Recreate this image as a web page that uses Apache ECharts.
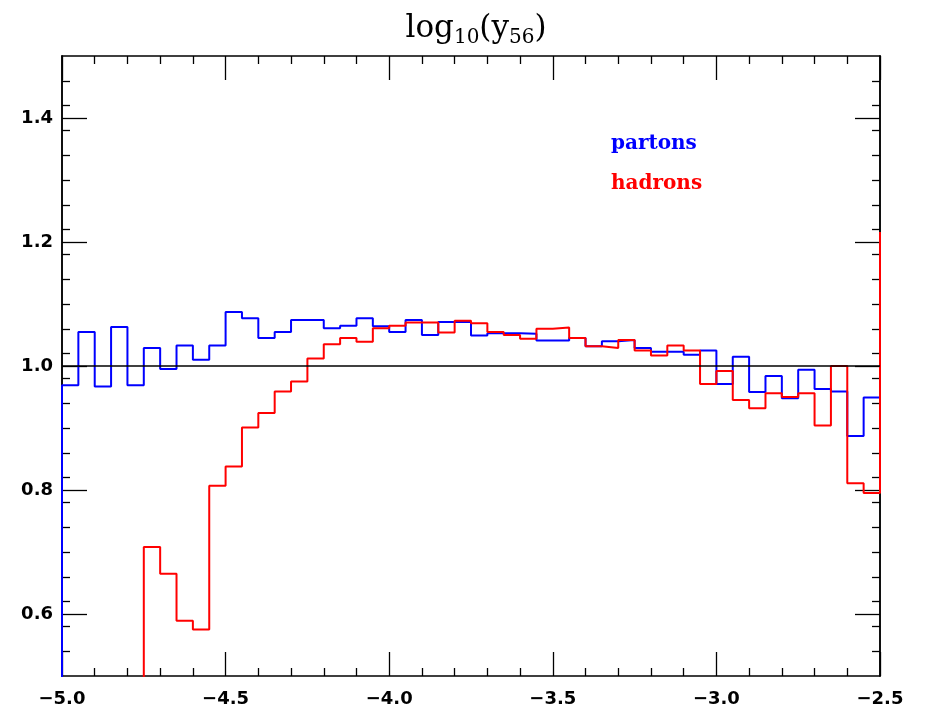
<!DOCTYPE html>
<html>
<head>
<meta charset="utf-8">
<script src="https://cdn.jsdelivr.net/npm/echarts@6/dist/echarts.min.js"></script>
<style>
html,body{margin:0;padding:0;background:#fff;}
#chart{width:926px;height:713px;}
</style>
</head>
<body>
<div id="chart"></div>
<script>
// ---- data ----
const binStart = -5.0;
const binWidth = 0.05;
const partons = [0.969,1.055,0.967,1.063,0.969,1.029,0.995,1.033,1.010,1.033,
  1.087,1.077,1.045,1.055,1.074,1.074,1.061,1.065,1.077,1.064,
  1.055,1.074,1.050,1.071,1.071,1.049,1.053,1.053,1.052,1.041,
  1.041,1.045,1.032,1.040,1.042,1.029,1.023,1.023,1.018,1.025,
  0.971,1.015,0.958,0.984,0.948,0.994,0.963,0.959,0.887,0.949];
const partonsEdge = [0, null]; // value before first bin, after last bin
const hadrons = [0,0,0,0,0,0.708,0.665,0.589,0.575,0.807,
  0.838,0.901,0.924,0.959,0.975,1.012,1.035,1.045,1.039,1.061,
  1.065,1.070,1.070,1.054,1.073,1.069,1.055,1.050,1.044,1.060,
  1.062,1.045,1.032,1.029,1.042,1.025,1.017,1.033,1.025,0.971,
  0.992,0.945,0.932,0.956,0.950,0.956,0.904,1.000,0.811,0.795];
const hadronsEdge = [null, 1.216];
const xTickLabels = [-5.0,-4.5,-4.0,-3.5,-3.0,-2.5];
const yTickLabels = [0.6,0.8,1.0,1.2,1.4];
const referenceLine = 1.0;
const seriesNames = ['partons','hadrons'];

// ---- build step paths ----
function stepPoints(vals, edge){
  const pts = [];
  const x0 = binStart, xN = binStart + binWidth*vals.length;
  if (edge[0] !== null) pts.push([x0, edge[0]]);
  vals.forEach((v,i)=>{
    const lo = +(binStart + i*binWidth).toFixed(4);
    const hi = +(binStart + (i+1)*binWidth).toFixed(4);
    pts.push([lo, v]); pts.push([hi, v]);
  });
  if (edge[1] !== null) pts.push([+xN.toFixed(4), edge[1]]);
  return pts;
}

const yMin = 0.5, yMax = 1.5;
const yMinor = [];
for (let k = 1; k < 25; k++) { const v = +(yMin + k*0.04).toFixed(2); if (yTickLabels.indexOf(v) < 0) yMinor.push(v); }

const labelFont = {fontFamily:'DejaVu Sans', fontWeight:'bold', fontSize:18, color:'#000'};
const axisLineStyle = {show:true, onZero:false, lineStyle:{color:'#000', width:1.5}};

function xAx(pos, showLabel){
  return {type:'value', min:-5, max:-2.5, interval:0.5, position:pos,
    axisLine:axisLineStyle,
    axisTick:{show:true, inside:true, length:24, lineStyle:{color:'#000', width:1.3}},
    minorTick:{show:true, splitNumber:5, length:8, lineStyle:{color:'#000', width:1.3}},
    splitLine:{show:false}, minorSplitLine:{show:false},
    axisLabel:{show:showLabel, margin:14, ...labelFont,
      formatter:v=>v.toFixed(1).replace('-', '\u2212')}};
}
function yAx(pos, major, showLabel){
  return {type:'value', min:yMin, max:yMax, position:pos,
    axisLine:axisLineStyle,
    axisTick:{show:true, inside:true, length: major?25:8, customValues: major?yTickLabels:yMinor,
      lineStyle:{color:'#000', width:1.3}},
    splitLine:{show:false},
    axisLabel:{show:showLabel, customValues:yTickLabels, margin:9, ...labelFont,
      formatter:v=>v.toFixed(1)}};
}

const chart = echarts.init(document.getElementById('chart'), null, {renderer:'canvas'});
chart.setOption({
  animation:false,
  backgroundColor:'#fff',
  title:{
    text:'{a|log}{s|10}{a|(y}{s|56}{a|)}',
    left:471, textAlign:'center', top:3,
    textStyle:{fontWeight:'normal', rich:{
      a:{fontFamily:'DejaVu Serif', fontWeight:'normal', fontSize:31, color:'#000', lineHeight:42, verticalAlign:'middle'},
      s:{fontFamily:'DejaVu Serif', fontWeight:'normal', fontSize:20, color:'#000', lineHeight:42, verticalAlign:'middle', padding:[17,0,0,0]}
    }}
  },
  legend:[
    {data:[seriesNames[0]], left:601, top:129, icon:'none', itemWidth:0, itemHeight:0,
     textStyle:{color:'#0000ff', fontFamily:'DejaVu Serif', fontWeight:'bold', fontSize:20}},
    {data:[seriesNames[1]], left:601, top:169, icon:'none', itemWidth:0, itemHeight:0,
     textStyle:{color:'#ff0000', fontFamily:'DejaVu Serif', fontWeight:'bold', fontSize:20}}
  ],
  grid:{left:62, right:46, top:56, bottom:37, containLabel:false},
  xAxis:[xAx('bottom', true), xAx('top', false)],
  yAxis:[yAx('left', true, true), yAx('left', false, false), yAx('right', true, false), yAx('right', false, false)],
  series:[
    {name:seriesNames[0], type:'line', data:stepPoints(partons, partonsEdge), showSymbol:false, symbol:'none',
     lineStyle:{color:'#0000ff', width:2}, itemStyle:{color:'#0000ff'}, clip:true, z:3,
     markLine:{silent:true, symbol:'none', label:{show:false},
       lineStyle:{color:'#000', width:1.5, type:'solid'}, data:[{yAxis:referenceLine}]}},
    {name:seriesNames[1], type:'line', data:stepPoints(hadrons, hadronsEdge), showSymbol:false, symbol:'none',
     lineStyle:{color:'#ff0000', width:2}, itemStyle:{color:'#ff0000'}, clip:true, z:4}
  ]
});
</script>
</body>
</html>
